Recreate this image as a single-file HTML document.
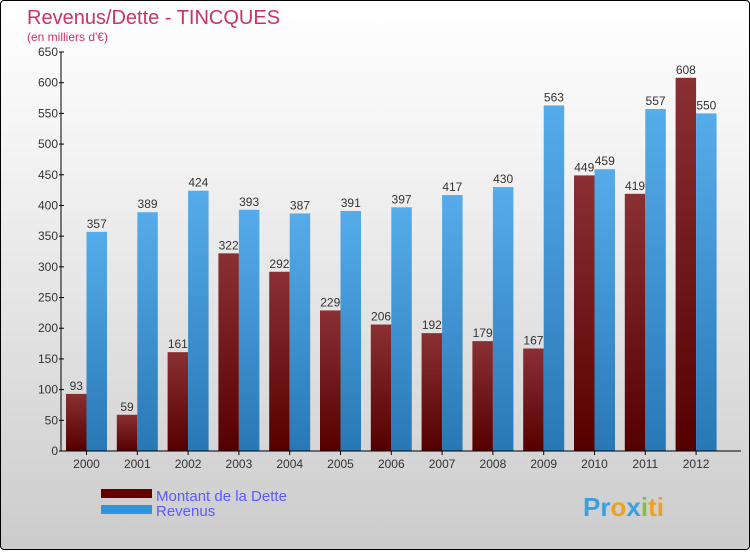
<!DOCTYPE html>
<html><head><meta charset="utf-8"><style>
html,body{margin:0;padding:0;}
body{width:750px;height:550px;overflow:hidden;font-family:"Liberation Sans",sans-serif;}
#wrap{position:absolute;left:0;top:0;width:748px;height:548px;border:1px solid #000;border-radius:4px;background:linear-gradient(#ffffff,#f2f2f2 30%,#cccccc);}
</style></head><body>
<div id="wrap">
<svg id="chart" width="750" height="550">
<defs>
<linearGradient id="gd" x1="0" y1="0" x2="0" y2="1"><stop offset="0" stop-color="#8a3033"/><stop offset="1" stop-color="#550000"/></linearGradient>
<linearGradient id="gr" x1="0" y1="0" x2="0" y2="1"><stop offset="0" stop-color="#56acea"/><stop offset="1" stop-color="#2878b5"/></linearGradient>
</defs>
<text x="26" y="23" font-size="20" fill="#c8336a">Revenus/Dette - TINCQUES</text>
<text x="26" y="40" font-size="12" fill="#c8336a">(en milliers d'€)</text>
<g id="bars"></g>
<g id="axes"></g>
<rect x="100" y="488" width="51" height="9" fill="#660000"/>
<rect x="100" y="504" width="51" height="9" fill="#2f96dd"/>
<text x="155" y="500" font-size="15" fill="#5a5aff">Montant de la Dette</text>
<text x="155" y="515" font-size="15" fill="#5a5aff">Revenus</text>
<text x="582" y="515" font-size="26" font-weight="bold"><tspan fill="#3aa0e0">Pr</tspan><tspan fill="#f0a020">o</tspan><tspan fill="#3aa0e0">x</tspan><tspan fill="#80c040">i</tspan><tspan fill="#f0a020">ti</tspan></text>
</svg></div>
<script>
const years=["2000","2001","2002","2003","2004","2005","2006","2007","2008","2009","2010","2011","2012"];
const dette=[93,59,161,322,292,229,206,192,179,167,449,419,608];
const revenus=[357,389,424,393,387,391,397,417,430,563,459,557,550];
const yTicks=[0,50,100,150,200,250,300,350,400,450,500,550,600,650];
const NS="http://www.w3.org/2000/svg";
const x0=60,xEnd=740,y0=450,yTop=51,ymax=650;
const gw=50.8,bw=20.5,c0=85.5;
const ys=v=>y0-(v/ymax)*(y0-yTop);
const bars=document.getElementById('bars'),axes=document.getElementById('axes');
function mk(t,a,p){const e=document.createElementNS(NS,t);for(const k in a)e.setAttribute(k,a[k]);(p||bars).appendChild(e);return e;}
years.forEach((yr,i)=>{
 const c=c0+gw*i;
 let r=mk('rect',{x:c-bw,y:ys(dette[i]),width:bw,height:y0-ys(dette[i]),fill:'url(#gd)'});
 
 
 r=mk('rect',{x:c,y:ys(revenus[i]),width:bw,height:y0-ys(revenus[i]),fill:'url(#gr)'});
 
 
 let t=mk('text',{x:c-bw/2,y:ys(dette[i])-4,'font-size':12,fill:'#333','text-anchor':'middle'});t.textContent=dette[i];
 
 
 t=mk('text',{x:c+bw/2,y:ys(revenus[i])-4,'font-size':12,fill:'#333','text-anchor':'middle'});t.textContent=revenus[i];
 
 
 mk('line',{x1:c,x2:c,y1:y0,y2:y0+4,stroke:'#000'},axes);
 t=mk('text',{x:c,y:y0+17,'font-size':12,fill:'#333','text-anchor':'middle'},axes);t.textContent=yr;
 
 
});
yTicks.forEach(v=>{
 const y=ys(v);
 mk('line',{x1:x0-2,x2:x0+3,y1:y,y2:y,stroke:'#000'},axes);
 const t=mk('text',{x:x0-3,y:y+4,'font-size':12,fill:'#333','text-anchor':'end'},axes);t.textContent=v;
 
 
});
let l=mk('line',{x1:x0,x2:x0,y1:yTop,y2:y0,stroke:'#000'},axes);


l=mk('line',{x1:x0,x2:xEnd,y1:y0,y2:y0,stroke:'#000'},axes);


</script>
</body></html>
